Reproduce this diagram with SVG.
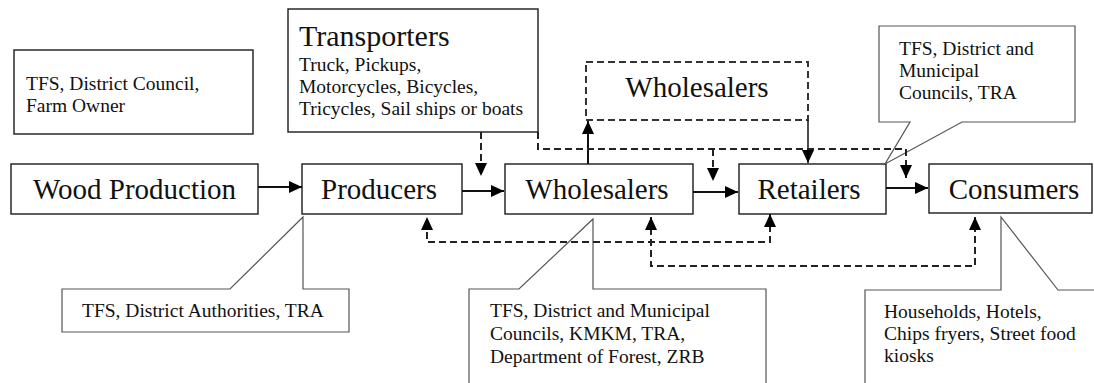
<svg xmlns="http://www.w3.org/2000/svg" width="1094" height="383" viewBox="0 0 1094 383">
<style>
  .box { fill: #fff; stroke: #1a1a1a; stroke-width: 1.4; }
  .dbox { fill: #fff; stroke: #333; stroke-width: 2; stroke-dasharray: 7 4; }
  .note { fill: #fff; stroke: #555; stroke-width: 1.2; }
  .title { font-size: 29px; fill: #111; }
  .small { font-size: 19.5px; fill: #111; }
  .solid { fill: none; stroke: #111; stroke-width: 2; }
  .dash { fill: none; stroke: #222; stroke-width: 2; stroke-dasharray: 7 4; }
</style>
<defs>
  <marker id="ah" markerUnits="userSpaceOnUse" markerWidth="13" markerHeight="12" refX="13" refY="6" orient="auto-start-reverse">
    <path d="M0,0 L13,6 L0,12 Z" fill="#000"/>
  </marker>
</defs>
<rect width="1094" height="383" fill="#fff"/>

<g font-family="Liberation Serif, Tinos, Times New Roman, DejaVu Serif, serif">
<g id="council-note">
  <rect class="box" x="14" y="50" width="239" height="84"/>
  <text class="small" x="26" y="90">TFS, District Council,</text>
  <text class="small" x="26" y="112">Farm Owner</text>
</g>

<g id="transporters">
  <rect class="box" x="288" y="9" width="250" height="123"/>
  <text class="title" x="299" y="46" style="font-size:30px">Transporters</text>
  <text class="small" x="299" y="71">Truck, Pickups,</text>
  <text class="small" x="299" y="93">Motorcycles, Bicycles,</text>
  <text class="small" x="299" y="115">Tricycles, Sail ships or boats</text>
</g>

<g id="wood-production">
  <rect class="box" x="11" y="164" width="247" height="50"/>
  <text class="title" x="134.5" y="199" text-anchor="middle">Wood Production</text>
</g>

<g id="producers">
  <rect class="box" x="302" y="164" width="160" height="50"/>
  <text class="title" x="379" y="199" text-anchor="middle">Producers</text>
</g>

<g id="wholesalers">
  <rect class="box" x="505" y="164" width="188" height="50"/>
  <text class="title" x="597" y="199" text-anchor="middle">Wholesalers</text>
</g>

<g id="retailers">
  <rect class="box" x="739" y="164" width="147" height="50"/>
  <text class="title" x="809" y="199" text-anchor="middle">Retailers</text>
</g>

<g id="consumers">
  <rect class="box" x="929" y="164" width="163" height="49"/>
  <text class="title" x="1014" y="199" text-anchor="middle">Consumers</text>
</g>

<g id="wholesalers-alt">
  <rect class="dbox" x="586" y="62" width="222" height="58"/>
  <text class="title" x="697" y="97" text-anchor="middle">Wholesalers</text>
</g>

<g id="retailer-note">
  <path class="note" d="M879,26 H1075 V122 H962 L885,164 L910,122 H879 Z"/>
  <text class="small" x="899" y="55">TFS, District and</text>
  <text class="small" x="899" y="77">Municipal</text>
  <text class="small" x="899" y="99">Councils, TRA</text>
</g>

<g id="producer-note">
  <path class="note" d="M62,289 H230 L303,217 V289 H349 V332 H62 Z"/>
  <text class="small" x="82" y="317">TFS, District Authorities, TRA</text>
</g>

<g id="wholesaler-note">
  <path class="note" d="M469,400 V289 H519 L593,219 V289 H766 V400"/>
  <text class="small" x="490" y="317">TFS, District and Municipal</text>
  <text class="small" x="490" y="340">Councils, KMKM, TRA,</text>
  <text class="small" x="490" y="363">Department of Forest, ZRB</text>
</g>

<g id="consumer-note">
  <path class="note" d="M865,400 V290 H1001 V217 L1058,290 H1100"/>
  <text class="small" x="884" y="318">Households, Hotels,</text>
  <text class="small" x="884" y="340">Chips fryers, Street food</text>
  <text class="small" x="884" y="362">kiosks</text>
</g>
</g>

<g id="connectors">
  <path class="solid" d="M258,187 H302" marker-end="url(#ah)"/>
  <path class="solid" d="M462,191 H504" marker-end="url(#ah)"/>
  <path class="solid" d="M693,192 H738" marker-end="url(#ah)"/>
  <path class="solid" d="M886,188 H928" marker-end="url(#ah)"/>
  <path class="solid" d="M588,164 V121" marker-end="url(#ah)"/>
  <path class="solid" style="stroke-width:1.5" d="M808,120 V163" marker-end="url(#ah)"/>
  <path class="dash" d="M481,132 V176" marker-end="url(#ah)"/>
  <path class="dash" d="M538,132 V149 H906 V178" marker-end="url(#ah)"/>
  <path class="dash" d="M713,149 V181" marker-end="url(#ah)"/>
  <path class="dash" d="M770,214 V242 H427 V217" marker-start="url(#ah)" marker-end="url(#ah)"/>
  <path class="dash" d="M651,217 V266 H975 V217" marker-start="url(#ah)" marker-end="url(#ah)"/>
</g>
</svg>
